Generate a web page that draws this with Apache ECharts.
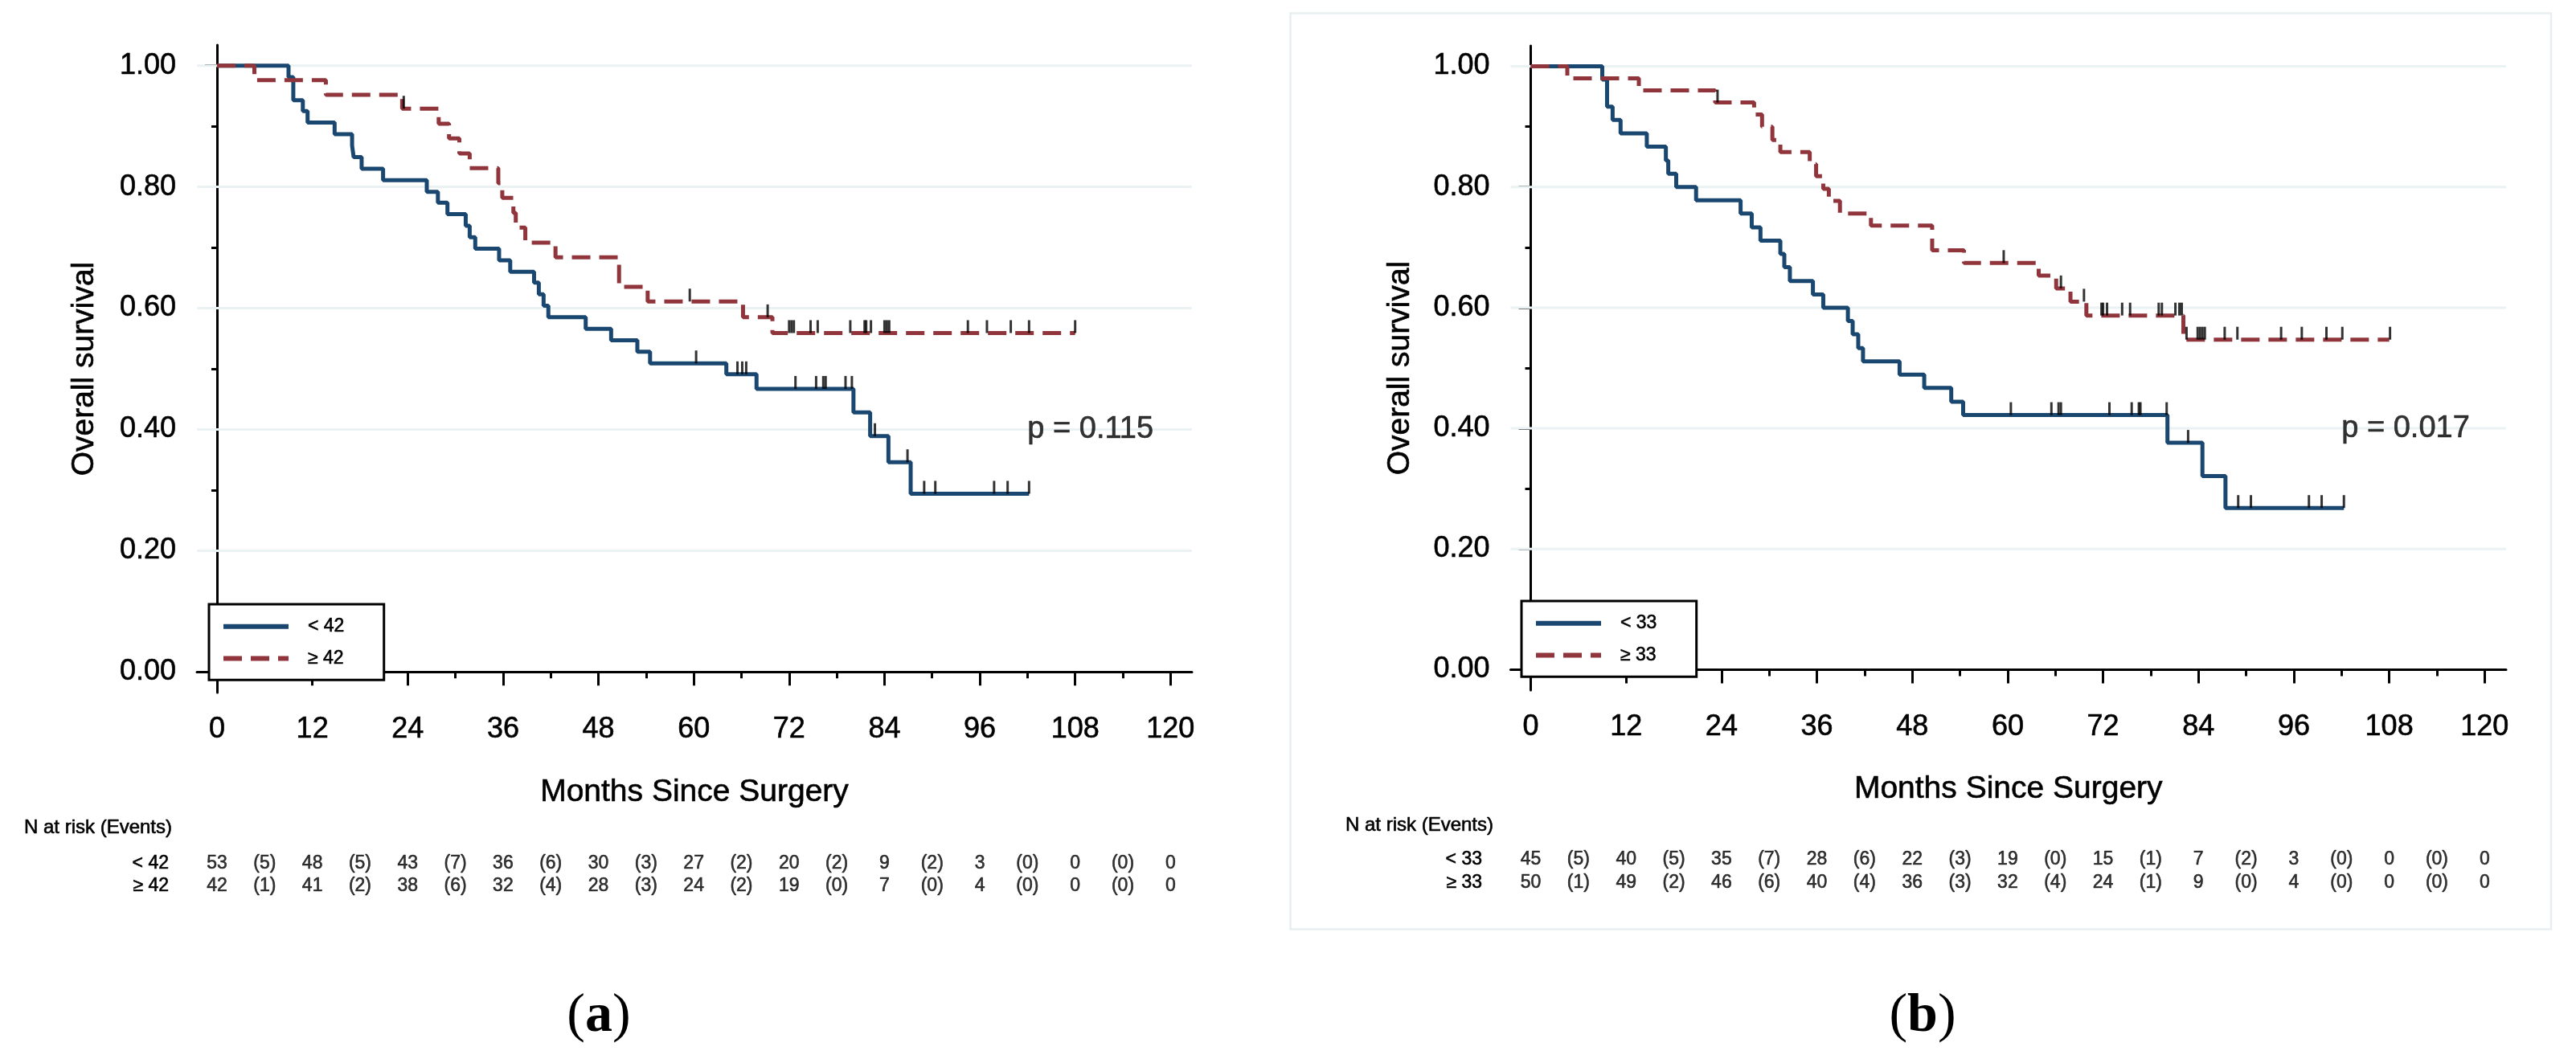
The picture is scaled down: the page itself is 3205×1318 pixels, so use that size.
<!DOCTYPE html>
<html>
<head>
<meta charset="utf-8">
<script src="https://cdn.jsdelivr.net/npm/echarts@6/dist/echarts.min.js"></script>
<style>
html,body{margin:0;padding:0;background:#fff;}
#chart{width:3205px;height:1318px;}
</style>
</head>
<body>
<div id="chart"></div>
<script>
// ---------------- DATA ----------------
const xTicksMajor = [0, 12, 24, 36, 48, 60, 72, 84, 96, 108, 120];
const xTicksMinor = [6, 18, 30, 42, 54, 66, 78, 90, 102, 114];
const yTicksMajor = [0, 0.2, 0.4, 0.6, 0.8, 1.0];
const yTicksMinor = [0.1, 0.3, 0.5, 0.7, 0.9];
const gridLineValues = [0.2, 0.4, 0.6, 0.8, 1.0];
const riskTimes = [0, 6, 12, 18, 24, 30, 36, 42, 48, 54, 60, 66, 72, 78, 84, 90, 96, 102, 108, 114, 120];

// Panel (a): cut-off 42
const aLowName = '< 42';
const aHighName = '\u2265 42';
const aLowT = [0, 9.0, 9.6, 10.8, 11.4, 14.8, 17.0, 17.2, 18.2, 20.9, 26.4, 27.8, 29.0, 31.3, 31.8, 32.5, 35.5, 36.9, 39.9, 40.5, 41.1, 41.7, 46.4, 49.6, 52.9, 54.5, 64.1, 67.9, 80.1, 82.2, 84.5, 87.3, 102.2];
const aLowS = [1.000, 0.981, 0.943, 0.925, 0.906, 0.887, 0.868, 0.849, 0.830, 0.811, 0.792, 0.774, 0.755, 0.736, 0.717, 0.698, 0.679, 0.660, 0.642, 0.623, 0.604, 0.585, 0.566, 0.547, 0.528, 0.509, 0.491, 0.467, 0.428, 0.389, 0.346, 0.294, 0.294];
const aLowCensor = [60.3, 65.5, 66.1, 66.6, 72.8, 75.4, 76.3, 76.6, 79.1, 79.9, 82.8, 86.9, 89.0, 90.4, 97.8, 99.5, 102.2];
const aHighT = [0, 4.7, 13.7, 23.3, 27.9, 29.2, 30.5, 31.8, 35.4, 35.9, 37.3, 37.6, 38.8, 42.6, 50.6, 54.2, 66.2, 69.9, 108.0];
const aHighS = [1.000, 0.976, 0.952, 0.929, 0.904, 0.880, 0.855, 0.831, 0.806, 0.782, 0.757, 0.733, 0.708, 0.684, 0.635, 0.611, 0.585, 0.559, 0.559];
const aHighCensor = [23.5, 59.5, 69.3, 72.0, 72.3, 72.6, 74.7, 75.6, 79.7, 81.5, 81.7, 82.3, 84.0, 84.3, 84.6, 94.5, 96.9, 99.9, 102.2, 108.0];
const aRiskLow = ['53', '(5)', '48', '(5)', '43', '(7)', '36', '(6)', '30', '(3)', '27', '(2)', '20', '(2)', '9', '(2)', '3', '(0)', '0', '(0)', '0'];
const aRiskHigh = ['42', '(1)', '41', '(2)', '38', '(6)', '32', '(4)', '28', '(3)', '24', '(2)', '19', '(0)', '7', '(0)', '4', '(0)', '0', '(0)', '0'];
const aPText = 'p = 0.115';

// Panel (b): cut-off 33
const bLowName = '< 33';
const bHighName = '\u2265 33';
const bLowT = [0, 9.0, 9.6, 10.3, 11.3, 14.6, 17.0, 17.3, 18.3, 20.8, 26.4, 27.8, 28.9, 31.4, 31.9, 32.6, 35.5, 36.8, 39.9, 40.5, 41.2, 41.8, 46.4, 49.5, 52.9, 54.4, 80.1, 84.5, 87.4, 102.3];
const bLowS = [1.000, 0.978, 0.933, 0.911, 0.889, 0.867, 0.844, 0.822, 0.800, 0.778, 0.756, 0.733, 0.711, 0.689, 0.667, 0.644, 0.622, 0.600, 0.578, 0.556, 0.533, 0.511, 0.489, 0.467, 0.444, 0.422, 0.376, 0.321, 0.268, 0.268];
const bLowCensor = [60.4, 65.5, 66.4, 66.7, 72.8, 75.6, 76.5, 76.7, 80.0, 82.7, 89.0, 90.6, 97.9, 99.5, 102.3];
const bHighT = [0, 4.6, 13.6, 23.2, 28.1, 29.1, 30.4, 31.4, 35.1, 35.9, 36.8, 37.5, 38.9, 42.8, 50.5, 54.5, 63.9, 66.1, 67.9, 69.9, 82.1, 108.0];
const bHighS = [1.000, 0.980, 0.960, 0.940, 0.920, 0.900, 0.878, 0.858, 0.838, 0.818, 0.797, 0.777, 0.756, 0.736, 0.695, 0.674, 0.653, 0.632, 0.610, 0.587, 0.547, 0.547];
const bHighCensor = [23.5, 59.5, 66.7, 69.6, 71.8, 72.0, 72.5, 74.4, 75.4, 79.0, 79.4, 81.1, 81.6, 81.9, 82.5, 83.9, 84.2, 84.5, 84.8, 87.3, 88.9, 94.4, 97.0, 100.1, 102.1, 108.1];
const bRiskLow = ['45', '(5)', '40', '(5)', '35', '(7)', '28', '(6)', '22', '(3)', '19', '(0)', '15', '(1)', '7', '(2)', '3', '(0)', '0', '(0)', '0'];
const bRiskHigh = ['50', '(1)', '49', '(2)', '46', '(6)', '40', '(4)', '36', '(3)', '32', '(4)', '24', '(1)', '9', '(0)', '4', '(0)', '0', '(0)', '0'];
const bPText = 'p = 0.017';

const xTitle = 'Months Since Surgery';
const yTitle = 'Overall survival';
const riskTitle = 'N at risk (Events)';

// ---------------- STYLE ----------------
const FONT = '"Liberation Sans", Arial, Helvetica, sans-serif';
const SERIF = '"Liberation Serif", "DejaVu Serif", serif';
const NAVY = '#1a476f';
const MAROON = '#90353b';
const GRIDC = '#eaf2f3';
const X_MIN = -2.53, X_MAX = 122.7, Y_MIN = -0.034, Y_MAX = 1.034;
const DASH = [23, 11];
const TB = { textBorderColor: '#000', textBorderWidth: 0.6 };

function stepPairs(T, S) { return T.map((t, i) => [t, S[i]]); }
function levelAt(T, S, t) { let s = S[0]; for (let i = 0; i < T.length; i++) { if (T[i] <= t) s = S[i]; } return s; }
function censorPairs(T, S, C) { return C.map(t => [t, levelAt(T, S, t)]); }

const grid = [], xAxis = [], yAxis = [], series = [], legend = [], graphic = [];

function addPanel(cfg) {
  const g0 = grid.length;
  grid.push({ left: cfg.left, top: cfg.top, width: cfg.width, height: cfg.height, containLabel: false });
  grid.push({ left: cfg.left, top: cfg.riskTop, width: cfg.width, height: cfg.riskHeight, containLabel: false });
  const x0 = xAxis.length, y0 = yAxis.length;
  xAxis.push({
    type: 'value', gridIndex: g0, min: X_MIN, max: X_MAX, position: 'bottom',
    name: xTitle, nameLocation: 'middle', nameGap: cfg.xNameGap,
    nameTextStyle: Object.assign({ fontFamily: FONT, fontSize: 39, color: '#000' }, TB),
    axisLine: { show: true, lineStyle: { color: '#000', width: 3 } },
    axisTick: { show: true, length: 17, lineStyle: { color: '#000', width: 3 }, customValues: xTicksMajor },
    axisLabel: Object.assign({ show: true, customValues: xTicksMajor, fontFamily: FONT, fontSize: 36, color: '#000', margin: 28 }, TB),
    splitLine: { show: false }
  });
  xAxis.push({
    type: 'value', gridIndex: g0, min: X_MIN, max: X_MAX, position: 'bottom',
    axisLine: { show: false },
    axisTick: { show: true, length: 8, lineStyle: { color: '#000', width: 3 }, customValues: xTicksMinor },
    axisLabel: { show: false, customValues: xTicksMinor },
    splitLine: { show: false }
  });
  xAxis.push({ type: 'value', gridIndex: g0 + 1, min: X_MIN, max: X_MAX, show: false, splitLine: { show: false } });
  yAxis.push({
    type: 'value', gridIndex: g0, min: Y_MIN, max: Y_MAX, position: 'left',
    name: yTitle, nameLocation: 'middle', nameGap: cfg.yNameGap, nameRotate: 90,
    nameTextStyle: Object.assign({ fontFamily: FONT, fontSize: 39, color: '#000' }, TB),
    axisLine: { show: true, lineStyle: { color: '#000', width: 3 } },
    axisTick: { show: true, length: 15, lineStyle: { color: '#000', width: 3 }, customValues: yTicksMajor },
    axisLabel: Object.assign({ show: true, customValues: yTicksMajor, formatter: v => v.toFixed(2), fontFamily: FONT, fontSize: 36, color: '#000', margin: 26 }, TB),
    splitLine: { show: false }
  });
  yAxis.push({
    type: 'value', gridIndex: g0, min: Y_MIN, max: Y_MAX, position: 'left',
    axisLine: { show: false },
    axisTick: { show: true, length: 7, lineStyle: { color: '#000', width: 3 }, customValues: yTicksMinor },
    axisLabel: { show: false, customValues: yTicksMinor },
    splitLine: { show: false }
  });
  yAxis.push({
    type: 'category', gridIndex: g0 + 1, data: [cfg.lowName, cfg.highName], inverse: true,
    axisLine: { show: false }, axisTick: { show: false }, splitLine: { show: false },
    axisLabel: Object.assign({ interval: 0, hideOverlap: false, fontFamily: FONT, fontSize: 23, color: '#000', margin: cfg.riskLabelMargin }, TB)
  });

  // light horizontal gridlines, drawn beneath curves
  series.push({
    type: 'custom', xAxisIndex: x0, yAxisIndex: y0, silent: true, z: 1, clip: false,
    data: gridLineValues.map(v => [0, v]),
    renderItem: (params, api) => {
      const v = api.value(1);
      const p1 = api.coord([X_MIN, v]);
      const p2 = api.coord([X_MAX, v]);
      return { type: 'line', shape: { x1: p1[0], y1: p1[1], x2: p2[0], y2: p2[1] }, style: { stroke: GRIDC, lineWidth: 3 } };
    }
  });
  series.push({
    name: cfg.lowName, type: 'line', step: 'end', xAxisIndex: x0, yAxisIndex: y0,
    data: stepPairs(cfg.lowT, cfg.lowS), symbol: 'none', z: 3,
    lineStyle: { color: NAVY, width: 5, type: 'solid' }, itemStyle: { color: NAVY }
  });
  series.push({
    name: cfg.highName, type: 'line', step: 'end', xAxisIndex: x0, yAxisIndex: y0,
    data: stepPairs(cfg.highT, cfg.highS), symbol: 'none', z: 3,
    lineStyle: { color: MAROON, width: 5, type: DASH }, itemStyle: { color: MAROON }
  });
  [[cfg.lowT, cfg.lowS, cfg.lowC], [cfg.highT, cfg.highS, cfg.highC]].forEach(([T, S, C]) => {
    series.push({
      type: 'scatter', xAxisIndex: x0, yAxisIndex: y0, data: censorPairs(T, S, C),
      symbol: 'rect', symbolSize: [3, 16], symbolOffset: [0, -8],
      itemStyle: { color: '#000' }, z: 4, silent: true
    });
  });
  series.push({
    type: 'scatter', xAxisIndex: x0, yAxisIndex: y0, data: [[cfg.pAt[0], cfg.pAt[1]]],
    symbolSize: 0, silent: true, z: 5,
    label: Object.assign({ show: true, position: 'right', distance: 0, formatter: cfg.pText, fontFamily: FONT, fontSize: 38, color: '#000' }, TB)
  });
  [[cfg.lowName, cfg.riskLow], [cfg.highName, cfg.riskHigh]].forEach(([row, vals]) => {
    series.push({
      type: 'scatter', xAxisIndex: x0 + 2, yAxisIndex: y0 + 2,
      data: riskTimes.map((t, i) => [t, row, vals[i]]),
      symbolSize: 0, silent: true,
      label: Object.assign({ show: true, position: 'inside', formatter: p => p.value[2], fontFamily: FONT, fontSize: 23, color: '#000' }, TB)
    });
  });
  legend.push({
    data: [cfg.lowName, cfg.highName], orient: 'vertical', left: cfg.legendLeft, top: cfg.legendTop,
    itemWidth: 81, itemHeight: 24, itemGap: 16, padding: [16, 49, 15, 15],
    borderColor: '#000', borderWidth: 3, backgroundColor: '#fff',
    selectedMode: false,
    itemStyle: { opacity: 0, borderWidth: 0 },
    lineStyle: { width: 6 },
    textStyle: Object.assign({ fontFamily: FONT, fontSize: 23, color: '#000', padding: [0, 0, 0, 19] }, TB)
  });
  graphic.push({
    type: 'text', x: cfg.riskTitleX, y: cfg.riskTitleY,
    style: { text: riskTitle, fontFamily: FONT, fontSize: 24, fill: '#000', stroke: '#000', lineWidth: 0.6, verticalAlign: 'middle', align: 'left' }
  });
  graphic.push({
    type: 'text', x: cfg.letterX, y: 1265,
    style: {
      text: '{p|(}{b|' + cfg.letter + '}{p|)}', align: 'center', verticalAlign: 'middle',
      rich: {
        p: { fontFamily: SERIF, fontSize: 68, fill: '#000' },
        b: { fontFamily: SERIF, fontSize: 68, fontWeight: 'bold', fill: '#000' }
      }
    }
  });
}

graphic.push({
  type: 'rect', z: -10, silent: true,
  shape: { x: 1605.5, y: 16.5, width: 1568.5, height: 1140 },
  style: { fill: 'none', stroke: '#e8eff1', lineWidth: 2.5 }
});

addPanel({
  left: 245, top: 56, width: 1238, height: 806,
  riskTop: 1061, riskHeight: 56, riskLabelMargin: 35,
  xNameGap: 105, yNameGap: 120,
  lowName: aLowName, highName: aHighName,
  lowT: aLowT, lowS: aLowS, lowC: aLowCensor,
  highT: aHighT, highS: aHighS, highC: aHighCensor,
  riskLow: aRiskLow, riskHigh: aRiskHigh,
  pText: aPText, pAt: [102, 0.40],
  legendLeft: 260, legendTop: 752,
  riskTitleX: 30, riskTitleY: 1030,
  letter: 'a', letterX: 745
});
addPanel({
  left: 1879.5, top: 57, width: 1238.5, height: 802,
  riskTop: 1055.5, riskHeight: 58, riskLabelMargin: 35.5,
  xNameGap: 104, yNameGap: 118,
  lowName: bLowName, highName: bHighName,
  lowT: bLowT, lowS: bLowS, lowC: bLowCensor,
  highT: bHighT, highS: bHighS, highC: bHighCensor,
  riskLow: bRiskLow, riskHigh: bRiskHigh,
  pText: bPText, pAt: [102, 0.40],
  legendLeft: 1893, legendTop: 748,
  riskTitleX: 1674, riskTitleY: 1027,
  letter: 'b', letterX: 2392
});

const chart = echarts.init(document.getElementById('chart'), null, { renderer: 'canvas', width: 3205, height: 1318 });
chart.setOption({
  backgroundColor: '#ffffff',
  animation: false,
  textStyle: { fontFamily: FONT },
  grid, xAxis, yAxis, series, legend, graphic
});
</script>
</body>
</html>
